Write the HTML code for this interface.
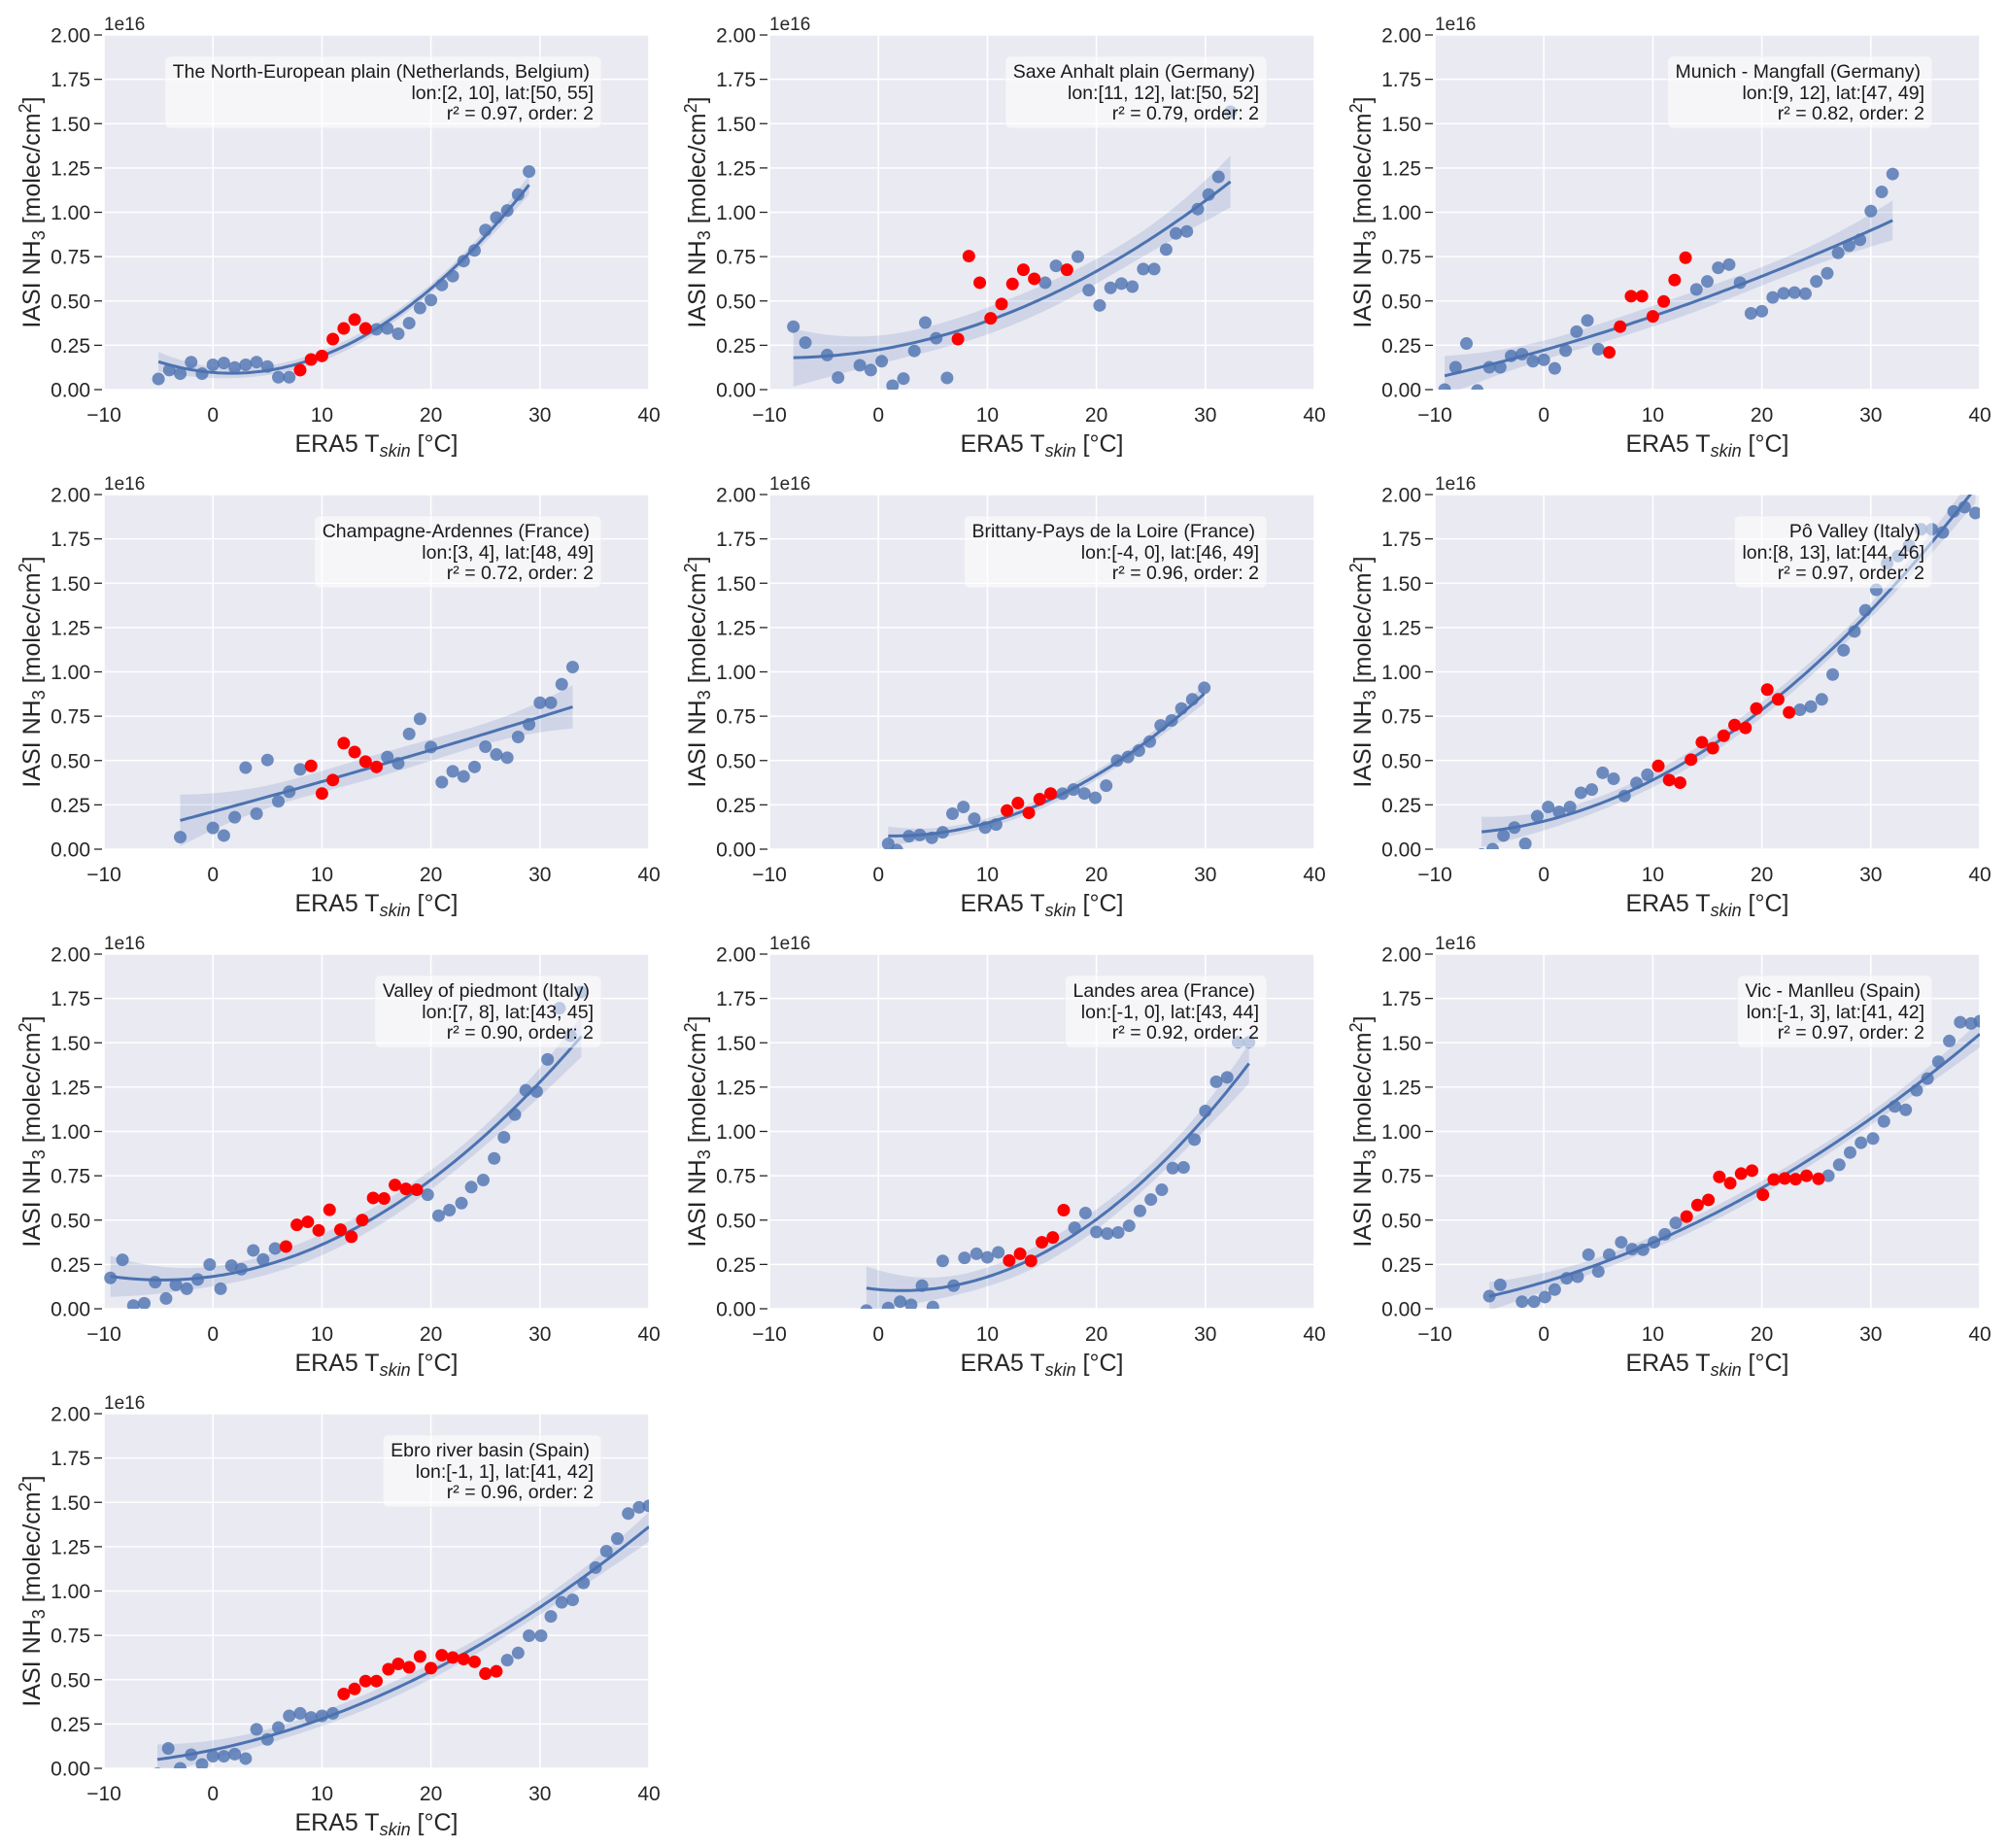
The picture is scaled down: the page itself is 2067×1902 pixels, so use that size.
<!DOCTYPE html>
<html><head><meta charset="utf-8"><style>
html,body{margin:0;padding:0;background:#fff;}
svg{display:block;font-family:"Liberation Sans",Arial,sans-serif;}
</style></head><body>
<svg id="fig" width="2067" height="1902" viewBox="0 0 2067 1902" xmlns="http://www.w3.org/2000/svg"></svg>
<script>
// Values in units of 1e16 molec/cm2
const p1BlueX=[-5,-4,-3,-2,-1,0,1,2,3,4,5,6,7,15,16,17,18,19,20,21,22,23,24,25,26,27,28,29];
const p1BlueY=[0.06,0.11,0.09,0.155,0.09,0.14,0.15,0.125,0.14,0.155,0.13,0.07,0.07,0.34,0.345,0.315,0.375,0.46,0.505,0.59,0.64,0.725,0.785,0.90,0.97,1.01,1.10,1.23];
const p1RedX=[8,9,10,11,12,13,14];
const p1RedY=[0.11,0.17,0.19,0.285,0.345,0.395,0.345];

const p2BlueX=[-7.8,-6.7,-4.7,-3.7,-1.7,-0.7,0.3,1.3,2.3,3.3,4.3,5.3,6.3,15.3,16.3,18.3,19.3,20.3,21.3,22.3,23.3,24.3,25.3,26.4,27.3,28.3,29.3,30.3,31.2,32.3];
const p2BlueY=[0.355,0.265,0.195,0.068,0.137,0.11,0.16,0.022,0.062,0.218,0.378,0.29,0.066,0.603,0.698,0.75,0.561,0.475,0.574,0.598,0.581,0.68,0.68,0.79,0.881,0.892,1.018,1.10,1.20,1.567];
const p2RedX=[7.3,8.3,9.3,10.3,11.3,12.3,13.3,14.3,17.3];
const p2RedY=[0.285,0.753,0.603,0.402,0.483,0.596,0.676,0.625,0.676];

const p3BlueX=[-9.1,-8.1,-7.1,-6.1,-5,-4,-3,-2,-1,0,1,2,3,4,5,14,15,16,17,18,19,20,21,22,23,24,25,26,27,28,29,30,31,32];
const p3BlueY=[0.0,0.126,0.26,-0.005,0.126,0.126,0.19,0.20,0.16,0.168,0.12,0.22,0.327,0.39,0.228,0.565,0.61,0.687,0.705,0.603,0.43,0.442,0.52,0.543,0.547,0.541,0.61,0.656,0.771,0.812,0.845,1.007,1.115,1.216];
const p3RedX=[6,7,8,9,10,11,12,13];
const p3RedY=[0.21,0.355,0.527,0.527,0.413,0.497,0.618,0.744];

const p4BlueX=[-3,0,1,2,3,4,5,6,7,8,16,17,18,19,20,21,22,23,24,25,26,27,28,29,30,31,32,33];
const p4BlueY=[0.068,0.12,0.077,0.18,0.46,0.20,0.503,0.27,0.324,0.45,0.52,0.484,0.65,0.735,0.576,0.378,0.439,0.41,0.464,0.578,0.534,0.516,0.633,0.704,0.826,0.826,0.93,1.027];
const p4RedX=[9,10,11,12,13,14,15];
const p4RedY=[0.47,0.314,0.39,0.598,0.548,0.494,0.464];

const p5BlueX=[0.9,1.7,2.8,3.8,4.9,5.9,6.8,7.8,8.8,9.8,10.8,16.9,17.9,18.9,19.9,20.9,21.9,22.9,23.9,24.9,25.9,26.9,27.8,28.8,29.9];
const p5BlueY=[0.03,-0.005,0.073,0.08,0.064,0.095,0.2,0.238,0.172,0.122,0.139,0.313,0.336,0.314,0.29,0.358,0.50,0.52,0.556,0.607,0.698,0.726,0.793,0.845,0.91];
const p5RedX=[11.8,12.8,13.8,14.8,15.8];
const p5RedY=[0.218,0.26,0.205,0.282,0.314];

const p6BlueX=[-5.7,-4.7,-3.7,-2.7,-1.7,-0.6,0.4,1.4,2.4,3.4,4.4,5.4,6.4,7.4,8.5,9.5,23.5,24.5,25.5,26.5,27.5,28.5,29.5,30.5,31.5,32.5,33.5,34.6,35.6,36.6,37.6,38.6,39.6];
const p6BlueY=[-0.03,0.0,0.077,0.122,0.031,0.186,0.238,0.21,0.238,0.318,0.336,0.431,0.397,0.30,0.373,0.42,0.786,0.804,0.845,0.985,1.122,1.228,1.347,1.463,1.612,1.653,1.713,1.804,1.804,1.786,1.905,1.929,1.896];
const p6RedX=[10.5,11.5,12.5,13.5,14.5,15.5,16.5,17.5,18.5,19.5,20.5,21.5,22.5];
const p6RedY=[0.47,0.39,0.375,0.505,0.603,0.57,0.64,0.70,0.684,0.793,0.90,0.845,0.771];

const p7BlueX=[-9.4,-8.3,-7.3,-6.3,-5.3,-4.3,-3.4,-2.4,-1.4,-0.3,0.7,1.7,2.6,3.7,4.6,5.7,19.7,20.7,21.7,22.8,23.7,24.8,25.8,26.7,27.7,28.7,29.7,30.7,31.8,32.8,33.8];
const p7BlueY=[0.174,0.276,0.018,0.031,0.15,0.058,0.135,0.113,0.165,0.249,0.113,0.243,0.223,0.329,0.278,0.34,0.643,0.525,0.556,0.596,0.686,0.726,0.848,0.967,1.095,1.232,1.225,1.406,1.695,1.54,1.786];
const p7RedX=[6.7,7.7,8.7,9.7,10.7,11.7,12.7,13.7,14.7,15.7,16.7,17.7,18.7];
const p7RedY=[0.351,0.473,0.49,0.442,0.558,0.446,0.406,0.50,0.625,0.622,0.698,0.676,0.671];

const p8BlueX=[-1.1,0.9,2,3,4,5,5.9,6.9,7.9,9,10,11,18,19,20,21,22,23,24,25,26,27,28,29,30,31,32,33,34];
const p8BlueY=[-0.01,0.004,0.04,0.022,0.13,0.01,0.27,0.13,0.287,0.31,0.29,0.318,0.457,0.54,0.433,0.424,0.43,0.468,0.552,0.616,0.671,0.793,0.797,0.954,1.115,1.28,1.305,1.503,1.503];
const p8RedX=[12,13,14,15,16,17];
const p8RedY=[0.272,0.31,0.27,0.375,0.402,0.556];

const p9BlueX=[-5,-4,-2,-0.9,0.1,1,2.1,3.1,4.1,5,6,7.1,8.1,9.1,10.1,11.1,12.1,26.1,27.1,28.1,29.1,30.2,31.2,32.2,33.2,34.2,35.2,36.2,37.2,38.2,39.2,40];
const p9BlueY=[0.071,0.135,0.04,0.04,0.066,0.108,0.172,0.181,0.305,0.21,0.305,0.375,0.336,0.333,0.375,0.42,0.484,0.75,0.812,0.881,0.936,0.96,1.057,1.141,1.122,1.232,1.298,1.393,1.51,1.616,1.609,1.622];
const p9RedX=[13.1,14.1,15.1,16.1,17.1,18.1,19.1,20.1,21.1,22.1,23.1,24.1,25.2];
const p9RedY=[0.52,0.585,0.614,0.744,0.708,0.762,0.779,0.643,0.729,0.735,0.731,0.75,0.733];

const p10BlueX=[-5.1,-4.1,-3,-2,-1,0,1,2,3,4,5,6,7,8,9,10,11,27,28,29,30.1,31,32,33,34,35.1,36.1,37.1,38.1,39.1,40];
const p10BlueY=[-0.03,0.112,0.0,0.077,0.022,0.068,0.068,0.08,0.055,0.22,0.163,0.23,0.296,0.31,0.287,0.296,0.31,0.61,0.651,0.748,0.748,0.857,0.936,0.95,1.046,1.132,1.225,1.296,1.437,1.472,1.48];
const p10RedX=[12,13,14,15,16.1,17,18,19,20,21,22,23,24,25,26];
const p10RedY=[0.419,0.448,0.492,0.492,0.559,0.589,0.57,0.631,0.565,0.638,0.625,0.616,0.601,0.534,0.547];

const titles=["The North-European plain (Netherlands, Belgium)","Saxe Anhalt plain (Germany)","Munich - Mangfall (Germany)","Champagne-Ardennes (France)","Brittany-Pays de la Loire (France)","Pô Valley (Italy)","Valley of piedmont (Italy)","Landes area (France)","Vic - Manlleu (Spain)","Ebro river basin (Spain)"];
const coords=["lon:[2, 10], lat:[50, 55]","lon:[11, 12], lat:[50, 52]","lon:[9, 12], lat:[47, 49]","lon:[3, 4], lat:[48, 49]","lon:[-4, 0], lat:[46, 49]","lon:[8, 13], lat:[44, 46]","lon:[7, 8], lat:[43, 45]","lon:[-1, 0], lat:[43, 44]","lon:[-1, 3], lat:[41, 42]","lon:[-1, 1], lat:[41, 42]"];
const r2s=["0.97","0.79","0.82","0.72","0.96","0.97","0.90","0.92","0.97","0.96"];
const xTicks=[-10,0,10,20,30,40];
const yTicks=[0,0.25,0.5,0.75,1.0,1.25,1.5,1.75,2.0];
const yTickLabels=["0.00","0.25","0.50","0.75","1.00","1.25","1.50","1.75","2.00"];

const panels=[[p1BlueX,p1BlueY,p1RedX,p1RedY],[p2BlueX,p2BlueY,p2RedX,p2RedY],[p3BlueX,p3BlueY,p3RedX,p3RedY],[p4BlueX,p4BlueY,p4RedX,p4RedY],[p5BlueX,p5BlueY,p5RedX,p5RedY],[p6BlueX,p6BlueY,p6RedX,p6RedY],[p7BlueX,p7BlueY,p7RedX,p7RedY],[p8BlueX,p8BlueY,p8RedX,p8RedY],[p9BlueX,p9BlueY,p9RedX,p9RedY],[p10BlueX,p10BlueY,p10RedX,p10RedY]];

const NS="http://www.w3.org/2000/svg";
const svg=document.getElementById('fig');
function mk(tag,attrs,parent){const e=document.createElementNS(NS,tag);for(const k in attrs)e.setAttribute(k,attrs[k]);(parent||svg).appendChild(e);return e;}

function inv3(m){
  const [a,b,c]=m[0],[d,e,f]=m[1],[g,h,i]=m[2];
  const A=e*i-f*h,B=-(d*i-f*g),C=d*h-e*g;
  const det=a*A+b*B+c*C;
  return [[A/det,-(b*i-c*h)/det,(b*f-c*e)/det],[B/det,(a*i-c*g)/det,-(a*f-c*d)/det],[C/det,-(a*h-b*g)/det,(a*e-b*d)/det]];
}
function fit(xs,ys){
  const M=[[0,0,0],[0,0,0],[0,0,0]],v=[0,0,0];
  xs.forEach((x,k)=>{const r=[1,x,x*x];for(let i=0;i<3;i++){v[i]+=r[i]*ys[k];for(let j=0;j<3;j++)M[i][j]+=r[i]*r[j];}});
  const Mi=inv3(M);
  const beta=[0,1,2].map(i=>Mi[i][0]*v[0]+Mi[i][1]*v[1]+Mi[i][2]*v[2]);
  let sse=0;xs.forEach((x,k)=>{const p=beta[0]+beta[1]*x+beta[2]*x*x;sse+=(ys[k]-p)**2;});
  const s2=sse/(xs.length-3);
  return {pred:x=>beta[0]+beta[1]*x+beta[2]*x*x,se:x=>{const r=[1,x,x*x];let q=0;for(let i=0;i<3;i++)for(let j=0;j<3;j++)q+=r[i]*Mi[i][j]*r[j];return Math.sqrt(s2*q);}};
}

const W=561,H=365;
panels.forEach((pd,idx)=>{
  const col=idx%3,row=Math.floor(idx/3);
  const L=[107,792,1477][col],T=36+473*row;
  const sx=v=>L+(v+10)/50*W, sy=v=>T+H-v/2*H;
  const g=mk('g',{});
  
  
  const cp=mk('clipPath',{id:'clip'+idx},g);
  mk('rect',{x:L,y:T,width:W,height:H},cp);
  const bg=mk('rect',{x:L,y:T,width:W,height:H,fill:'#EAEAF2'},g);
  
  
  xTicks.forEach(t=>{
    const ln=mk('line',{x1:sx(t),x2:sx(t),y1:T,y2:T+H,stroke:'#fff','stroke-width':1.6},g);
    
    
    const tx=mk('text',{x:sx(t),y:T+H+33,'text-anchor':'middle','font-size':21,fill:'#262626'},g);
    tx.textContent=(t<0?'\u2212'+(-t):t);
    
    
  });
  yTicks.forEach((t,k)=>{
    const ln=mk('line',{x1:L,x2:L+W,y1:sy(t),y2:sy(t),stroke:'#fff','stroke-width':1.6},g);
    
    
    const tk=mk('line',{x1:L-10,x2:L-2,y1:sy(t),y2:sy(t),stroke:'#262626','stroke-width':1.3},g);
    
    
    const tx=mk('text',{x:L-14,y:sy(t)+7.5,'text-anchor':'end','font-size':21,fill:'#262626'},g);
    tx.textContent=yTickLabels[k];
    
    
  });
  const off=mk('text',{x:L,y:T-5,'font-size':19,fill:'#262626'},g);
  off.textContent='1e16';
  
  
  const xl=mk('text',{x:L+W/2,y:T+H+64,'text-anchor':'middle','font-size':25,fill:'#262626'},g);
  xl.innerHTML='ERA5 T<tspan font-size="18" font-style="italic" dy="5">skin</tspan><tspan dy="-5"> [°C]</tspan>';
  
  
  const yl=mk('text',{transform:`translate(${L-66},${T+H/2}) rotate(-90)`,'text-anchor':'middle','font-size':25,fill:'#262626'},g);
  yl.innerHTML='IASI NH<tspan font-size="18" dy="5">3</tspan><tspan dy="-5"> [molec/cm</tspan><tspan font-size="18" dy="-9">2</tspan><tspan dy="9">]</tspan>';
  
  

  const [bx,by,rx,ry]=pd;
  const ax=bx.concat(rx), ay=by.concat(ry);
  const f=fit(ax,ay);
  const xmin=Math.min(...ax),xmax=Math.max(...ax);
  const N=100,up=[],lo=[],mid=[];
  for(let i=0;i<=N;i++){const x=xmin+(xmax-xmin)*i/N;const p=f.pred(x),e=1.98*f.se(x);
    mid.push(sx(x).toFixed(1)+','+sy(p).toFixed(1));up.push(sx(x).toFixed(1)+','+sy(p+e).toFixed(1));lo.unshift(sx(x).toFixed(1)+','+sy(p-e).toFixed(1));}
  const cg=mk('g',{'clip-path':`url(#clip${idx})`},g);
  const band=mk('polygon',{points:up.concat(lo).join(' '),fill:'#4C72B0','fill-opacity':0.17},cg);
  
  
  bx.forEach((x,k)=>{
    const c=mk('circle',{cx:sx(x),cy:sy(by[k]),r:6.5,fill:'#4C72B0','fill-opacity':0.8},cg);
    
    
  });
  const fl=mk('polyline',{points:mid.join(' '),fill:'none',stroke:'#4C72B0','stroke-width':3},cg);
  
  
  rx.forEach((x,k)=>{
    const c=mk('circle',{cx:sx(x),cy:sy(ry[k]),r:6.5,fill:'#FF0000'},cg);
    
    
  });
  const lg=mk('g',{},g);
  
  
  const rect=mk('rect',{rx:5,fill:'#ffffff','fill-opacity':0.55,stroke:'#e8e8ee','stroke-opacity':0.6},lg);
  const tR=L+W-57;
  const lines=[titles[idx],coords[idx],'r² = '+r2s[idx]+', order: 2'];
  const ys=[T+44,T+66,T+87];
  let minLeft=1e9;
  lines.forEach((s,k)=>{
    const t=mk('text',{x:k===0?tR-4:tR,y:ys[k],'text-anchor':'end','font-size':19.5,fill:'#1a1a1a'},lg);
    t.textContent=s;
    
    
    const w=t.getComputedTextLength();minLeft=Math.min(minLeft,(k===0?tR-4:tR)-w);
  });
  const rl=minLeft-8,rr=L+W-49;
  rect.setAttribute('x',rl);rect.setAttribute('y',T+22);rect.setAttribute('width',rr-rl);rect.setAttribute('height',74);
});
</script>
</body></html>
